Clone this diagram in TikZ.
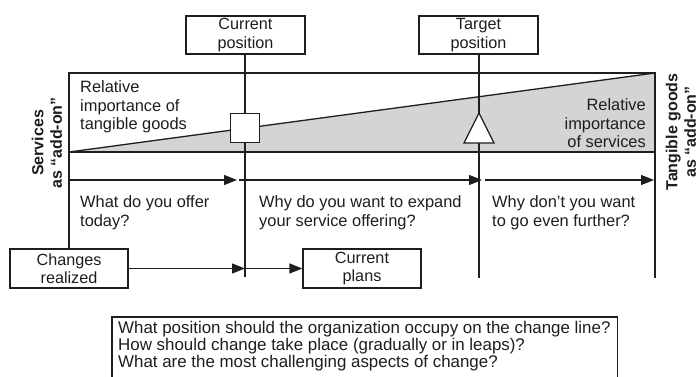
\documentclass[tikz,border=0pt]{standalone}
\usepackage{fontspec}
\setmainfont{Liberation Sans}
\usetikzlibrary{arrows.meta}
\definecolor{fillg}{RGB}{212,212,212}
\definecolor{ink}{RGB}{30,30,30}
\begin{document}
\begin{tikzpicture}[x=1pt,y=-1pt,
  ln/.style={line width=1.3pt, draw=ink},
  arr/.style={ln, -{Triangle[length=13pt,width=10pt]}},
  boxn/.style={draw=ink, line width=1.3pt, fill=white, align=center, inner sep=0pt,
    minimum width=119pt, minimum height=38pt, text=ink,
    font=\fontsize{16.2}{18.5}\selectfont},
  txt/.style={inner sep=0pt, text=ink, font=\fontsize{16.4}{18.5}\selectfont},
  side/.style={inner sep=0pt, text=ink, align=center, rotate=90,
    font=\fontsize{16}{18.5}\selectfont\bfseries},
]
\useasboundingbox (0,0) rectangle (699,376);
\clip (0,0) rectangle (699,376);
\fill[white] (0,0) rectangle (699,376);

% frame coordinates
\coordinate (tl) at (69,73);
\coordinate (tr) at (655,73);
\coordinate (ml) at (69,152);
\coordinate (mr) at (655,152);
\coordinate (rb) at (655,278);

% gray wedge
\fill[fillg] (ml) -- (tr) -- (mr) -- cycle;
% frame
\draw[ln] (ml) -- (tl) -- (tr) -- (rb);
\draw[ln] (ml) -- (mr);
\draw[ln] (ml) -- (tr);

% boxes
\node[boxn] (cur) at (245.5,35) {Current\\position};
\node[boxn] (tgt) at (478.5,35) {Target\\position};
\node[boxn, minimum width=118pt, minimum height=39pt] (chg) at (69,268.5) {Changes\\realized};
\node[boxn, minimum width=118pt, minimum height=39pt] (pln) at (362,268.5) {Current\\plans};

% left frame line down to the box
\draw[ln] (ml) -- (chg.north -| ml);

% vertical position lines
\coordinate (curb) at (245,277);
\coordinate (tgtb) at (479,278);
\draw[ln] (cur.south -| curb) -- (curb);
\draw[ln] (tgt.south -| tgtb) -- (tgtb);

% markers
\node[draw=ink, line width=1.3pt, fill=white, minimum size=29pt, inner sep=0pt] (sq) at (245,128) {};
\coordinate (ta) at (479,113);
\coordinate (tb1) at (464,143);
\coordinate (tb2) at (494,143);
\draw[ln, fill=white, line join=miter] (tb1) -- (ta) -- (tb2) -- cycle;

% upper arrows
\coordinate (a0) at (69,180);
\coordinate (a1) at (237,180);
\coordinate (a2) at (239,180);
\coordinate (a3) at (482,180);
\coordinate (a4) at (485,180);
\coordinate (a5) at (654,180);
\draw[arr] (a0) -- (a1);
\draw[arr] (a2) -- (a3);
\draw[arr] (a4) -- (a5);

% lower arrows
\coordinate (b1) at (245,268.5);
\draw[arr] (chg.east) -- (b1);
\draw[arr] (b1) -- (pln.west);

% texts
\node[txt, anchor=north west, align=left] (t1) at (80,80.5) {Relative\\importance of\\tangible goods};
\node[txt, anchor=north east, align=right] (t2) at (646,98.5) {Relative\\importance\\of services};
\node[txt, anchor=north west, align=left] (q1) at (80,195.5) {What do you offer\\today?};
\node[txt, anchor=north west, align=left] (q2) at (259,195.5) {Why do you want to expand\\your service offering?};
\node[txt, anchor=north west, align=left] (q3) at (492,195.5) {Why don’t you want\\to go even further?};

% side labels
\node[side] (sl) at (47,143) {Services\\as “add-on”};
\node[side] (sr) at (681,132) {Tangible goods\\as “add-on”};

% question box (runs off the bottom edge)
\node[minimum width=505pt, minimum height=80pt, inner sep=0pt, anchor=north west] (qb) at (112,317) {};
\draw[ln] (qb.south west) -- (qb.north west) -- (qb.north east) -- (qb.south east);
\node[txt, anchor=north west, align=left, font=\fontsize{16.9}{17}\selectfont] (qt) at (118,321)
  {What position should the organization occupy on the change line?\\How should change take place (gradually or in leaps)?\\What are the most challenging aspects of change?};
\end{tikzpicture}
\end{document}
